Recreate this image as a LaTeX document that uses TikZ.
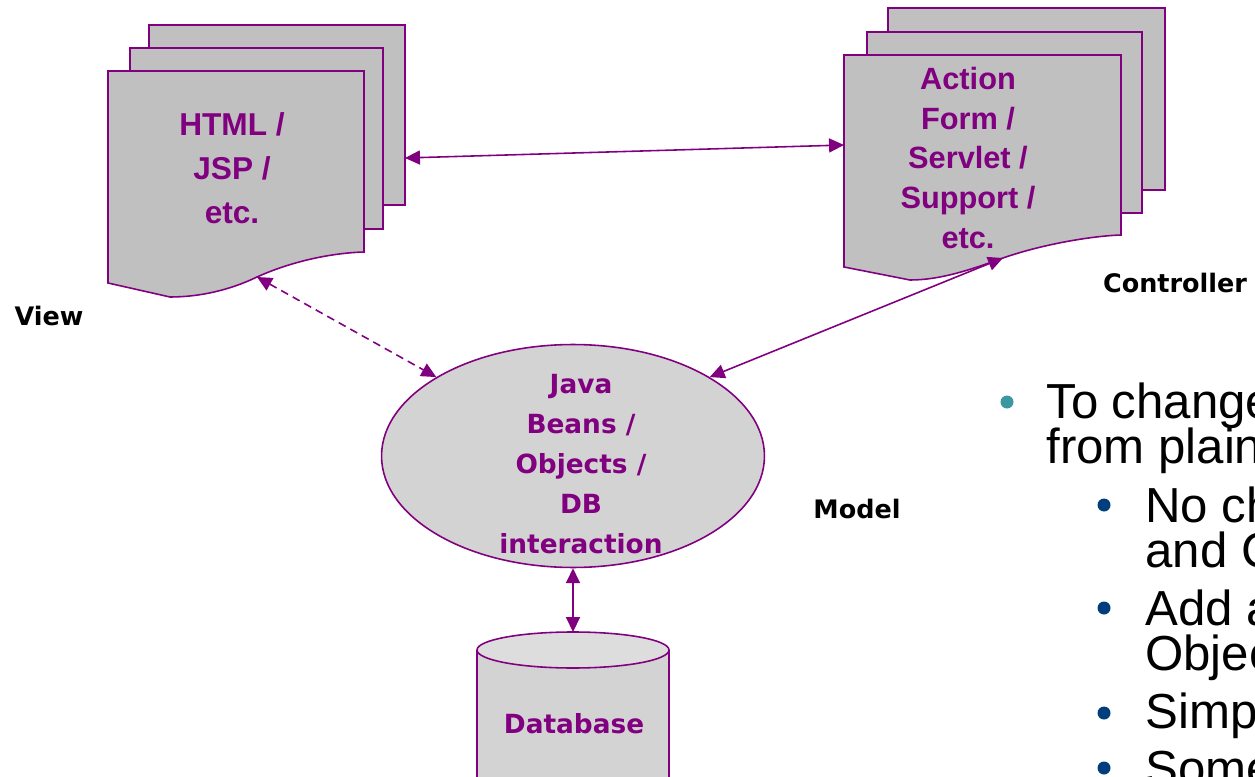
\documentclass[tikz,border=0pt]{standalone}
\usepackage{fontspec}
\setmainfont{Liberation Sans}
\newfontfamily\comicfont{DejaVu Sans}
\usetikzlibrary{positioning,arrows.meta,shapes.geometric}
\definecolor{mvcpurple}{RGB}{128,0,128}
\definecolor{sheetgray}{RGB}{192,192,192}
\definecolor{beangray}{RGB}{211,211,211}
\definecolor{dbtopgray}{RGB}{221,221,221}
\definecolor{bulletteal}{RGB}{60,152,160}
\definecolor{bulletblue}{RGB}{0,62,126}
\tikzset{
  sheet/.style={draw=mvcpurple, fill=sheetgray, line width=0.9pt},
  doctext/.style={text=mvcpurple, align=center, inner sep=0pt,
    font=\fontsize{18}{25}\selectfont\bfseries},
  ctrltext/.style={doctext, font=\fontsize{17.5}{22.5}\selectfont\bfseries},
  bean/.style={ellipse, draw=mvcpurple, fill=beangray, line width=0.9pt,
    inner sep=0pt, minimum width=7.66cm, minimum height=4.46cm},
  beantext/.style={text=mvcpurple, align=center, inner sep=0pt,
    font=\comicfont\fontsize{15}{22.8}\selectfont\bfseries},
  dbside/.style={draw=mvcpurple, fill=beangray, line width=0.9pt},
  dbcap/.style={draw=mvcpurple, fill=dbtopgray, line width=0.9pt},
  tag/.style={inner sep=0pt, font=\comicfont\fontsize{14.5}{17}\selectfont\bfseries},
  link/.style={draw=mvcpurple, line width=0.9pt,
    {Triangle[length=8.5pt,width=8pt]}-{Triangle[length=8.5pt,width=8pt]}},
  dlink/.style={link, dash pattern=on 4.5pt off 3pt},
  point/.style={inner sep=0pt, anchor=base west, font=\fontsize{28}{25.6}\selectfont}
}
\begin{document}
\begin{tikzpicture}[x=0.02cm, y=-0.02cm]
  \useasboundingbox (0,0) rectangle (1255,777);
  \clip (0,0) rectangle (1255,777);
  % view pages
  \draw[sheet] (149,25) rectangle (405,205);
  \draw[sheet] (130,48) rectangle (383,229);
  \draw[sheet] (108,71) -- (364,71) -- (364,252)
    .. controls (330,253) and (290,262) .. (257,277)
    .. controls (230,290) and (200,297) .. (170,297) -- (108,283) -- cycle;
  \node[doctext] (view) at (232,168) {HTML /\\JSP /\\etc.};
  % controller pages
  \draw[sheet] (888,8) rectangle (1165,190);
  \draw[sheet] (867,32) rectangle (1142,213);
  \draw[sheet] (844,55) -- (1121,55) -- (1121,235)
    .. controls (1090,236) and (1040,245) .. (1003,258)
    .. controls (970,270) and (940,280) .. (910,280) -- (844,267) -- cycle;
  \node[ctrltext] (ctrl) at (968,158) {Action\\Form /\\Servlet /\\Support /\\etc.};
  % model
  \node[bean] (beans) at (573,456) {};
  \node[beantext] (beantxt) at (581,464) {Java\\Beans /\\Objects /\\DB\\interaction};
  % database
  \draw[dbside] (477,650) -- (477,800) -- (669,800) -- (669,650);
  \draw[dbcap] (573,650) ellipse [x radius=96, y radius=18];
  \node[beantext] (db) at (574,724) {Database};
  \coordinate (dbin) at (573,632);
  % labels
  \node[tag] (viewtag) at (49,316) {View};
  \node[tag] (ctrltag) at (1175,283) {Controller};
  \node[tag] (modeltag) at (857,509) {Model};
  % connectors
  \coordinate (viewout) at (405,158);
  \coordinate (ctrlin) at (844,145);
  \coordinate (viewfoot) at (257,277);
  \coordinate (ctrlfoot) at (1003,258);
  \draw[link] (viewout) -- (ctrlin);
  \draw[dlink] (viewfoot) -- (beans.150);
  \draw[link] (ctrlfoot) -- (beans.30);
  \draw[link] (beans.south) -- (dbin);
  % bullet points
  \fill[bulletteal] (1007,402) circle (6.5);
  \node[point] (p1) at (1046,418) {To change};
  \node[point] (p1b) at (1046,463) {from plain};
  \fill[bulletblue] (1104,505) circle (6.5);
  \node[point] (p2) at (1145,522) {No ch};
  \node[point] (p2b) at (1145,567) {and C};
  \fill[bulletblue] (1104,608) circle (6.5);
  \node[point] (p3) at (1145,625) {Add a};
  \node[point] (p3b) at (1145,670) {Objec};
  \fill[bulletblue] (1104,713) circle (6.5);
  \node[point] (p4) at (1145,728) {Simp};
  \fill[bulletblue] (1104,768) circle (6.5);
  \node[point] (p5) at (1145,785) {Some};
\end{tikzpicture}
\end{document}
